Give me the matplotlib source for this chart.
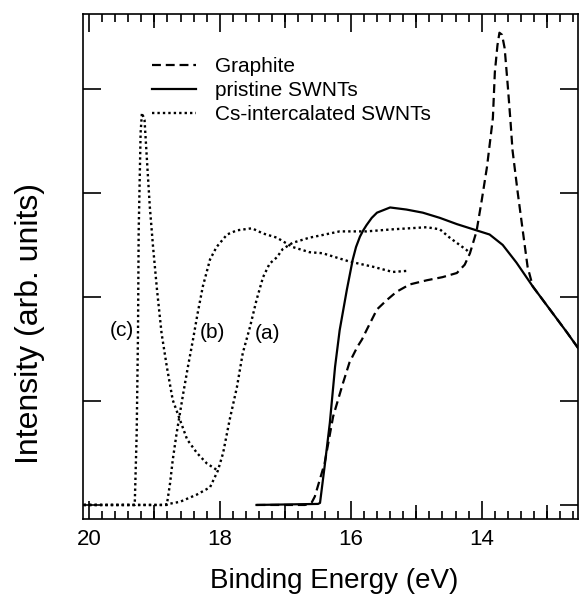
import matplotlib
matplotlib.use('Agg')
import matplotlib.pyplot as plt
from matplotlib.ticker import MultipleLocator, NullFormatter

plt.rcParams['font.family'] = ['Liberation Sans', 'DejaVu Sans']

# Graphite (dashed)
graphite_e = [17.44, 16.70, 16.60, 16.55, 16.40, 16.27, 16.12, 16.02, 15.90, 15.83,
              15.76, 15.60, 15.45, 15.30, 15.10, 14.84, 14.60, 14.38, 14.26, 14.18,
              14.08, 14.00, 13.92, 13.83, 13.80, 13.76, 13.73, 13.69, 13.65, 13.60,
              13.56, 13.53, 13.45, 13.37, 13.30, 13.22, 12.96, 12.70, 12.53]
graphite_i = [0.00, 0.00, 0.02, 0.08, 0.40, 0.85, 1.17, 1.37, 1.52, 1.59,
              1.68, 1.88, 1.97, 2.05, 2.12, 2.16, 2.19, 2.23, 2.31, 2.42,
              2.63, 2.93, 3.25, 3.72, 4.16, 4.42, 4.54, 4.52, 4.39, 4.01,
              3.68, 3.41, 3.00, 2.62, 2.29, 2.10, 1.88, 1.66, 1.51]

# pristine SWNTs (solid)
pristine_e = [17.44, 16.50, 16.47, 16.40, 16.32, 16.24, 16.17, 16.06, 15.97, 15.92,
              15.86, 15.81, 15.76, 15.68, 15.60, 15.40, 15.15, 14.90, 14.64, 14.38,
              14.08, 13.88, 13.68, 13.47, 13.22, 12.96, 12.70, 12.53]
pristine_i = [0.00, 0.01, 0.02, 0.37, 0.79, 1.33, 1.68, 2.07, 2.36, 2.48,
              2.58, 2.64, 2.69, 2.76, 2.81, 2.86, 2.84, 2.81, 2.76, 2.70,
              2.64, 2.60, 2.50, 2.33, 2.10, 1.88, 1.66, 1.51]

# Cs-intercalated SWNTs (dotted), three doping stages
cs_a_e = [20.08, 18.87, 18.61, 18.35, 18.15, 18.03, 17.95, 17.85, 17.74, 17.65,
          17.54, 17.44, 17.34, 17.24, 17.13, 17.04, 16.89, 16.63, 16.47, 16.17,
          15.76, 15.36, 14.84, 14.64, 14.49, 14.23, 14.18]
cs_a_i = [0.00, 0.00, 0.03, 0.10, 0.17, 0.33, 0.50, 0.82, 1.13, 1.46,
          1.71, 1.97, 2.19, 2.32, 2.38, 2.46, 2.52, 2.57, 2.59, 2.63,
          2.63, 2.65, 2.67, 2.65, 2.57, 2.45, 2.42]

cs_b_e = [20.08, 18.81, 18.76, 18.72, 18.66, 18.61, 18.56, 18.49, 18.41, 18.34,
          18.26, 18.15, 18.05, 17.89, 17.74, 17.51, 17.34, 17.13, 16.89, 16.63,
          16.43, 16.02, 15.66, 15.36, 15.15]
cs_b_i = [0.00, 0.00, 0.21, 0.43, 0.69, 0.88, 1.07, 1.32, 1.59, 1.84,
          2.10, 2.36, 2.48, 2.60, 2.64, 2.66, 2.61, 2.57, 2.48, 2.43,
          2.42, 2.34, 2.29, 2.24, 2.25]

cs_c_e = [20.08, 19.30, 19.27, 19.25, 19.24, 19.21, 19.19, 19.15, 19.11, 19.07,
          19.02, 18.96, 18.89, 18.81, 18.72, 18.61, 18.50, 18.35, 18.20, 18.03]
cs_c_i = [0.00, 0.00, 0.69, 1.65, 2.62, 3.58, 3.77, 3.70, 3.28, 2.87,
          2.48, 2.07, 1.65, 1.33, 1.01, 0.82, 0.63, 0.50, 0.40, 0.33]

curve_tags = ['(a)', '(b)', '(c)']
tag_e = [17.27, 18.12, 19.50]
tag_i = [1.65, 1.66, 1.68]

fig = plt.figure(figsize=(5.8, 5.95), dpi=100)
ax = fig.add_axes([83 / 580, 1 - 519 / 595, 495 / 580, 505 / 595])

dashed = (0, (4.0, 2.2))
dotted = (0, (1, 1.3))
ax.plot(graphite_e, graphite_i, color='black', lw=1.6, linestyle=dashed, label='Graphite')
ax.plot(pristine_e, pristine_i, color='black', lw=1.6, label='pristine SWNTs')
ax.plot(cs_a_e, cs_a_i, color='black', lw=1.7, linestyle=dotted, label='Cs-intercalated SWNTs')
ax.plot(cs_b_e, cs_b_i, color='black', lw=1.7, linestyle=dotted)
ax.plot(cs_c_e, cs_c_i, color='black', lw=1.7, linestyle=dotted)

for t, x, y in zip(curve_tags, tag_e, tag_i):
    ax.text(x, y, t, fontsize=15, ha='center', va='center')

ax.set_xlim(20.09, 12.53)
ax.set_ylim(-0.135, 4.72)

# ticks: long every 2 eV, medium every 1 eV, short every 0.2 eV
ax.xaxis.set_major_locator(MultipleLocator(2))
ax.xaxis.set_minor_locator(MultipleLocator(0.2))
ax.xaxis.set_major_formatter(lambda v, p: f'{v:.0f}')
ax.yaxis.set_major_locator(MultipleLocator(1))
ax.yaxis.set_major_formatter(NullFormatter())
ax.tick_params(axis='x', which='major', direction='in', length=13, width=1.2,
               top=True, labelsize=16, pad=7)
ax.tick_params(axis='x', which='minor', direction='in', length=6, width=1.2, top=True)
ax.tick_params(axis='y', which='major', direction='in', length=13, width=1.2, right=True)
for loc in ('bottom', 'top'):
    sec = ax.secondary_xaxis(loc)
    sec.set_xticks([19, 17, 15, 13])
    sec.tick_params(direction='in', length=10, width=1.2, labelbottom=False, labeltop=False)
    sec.spines[loc].set_visible(False)
for s in ax.spines.values():
    s.set_linewidth(1.2)

ax.legend(loc='upper left', bbox_to_anchor=(0.139, 0.915), frameon=False, fontsize=15,
          handlelength=2.1, handletextpad=0.95, labelspacing=0.25, borderpad=0,
          borderaxespad=0)

fig.text(30 / 580, 1 - 323 / 595, 'Intensity (arb. units)', rotation=90,
         fontsize=23, ha='center', va='center')
fig.text(334 / 580, 1 - 588 / 595, 'Binding Energy (eV)', fontsize=20,
         ha='center', va='baseline')

fig.savefig('out.png', dpi=100)
